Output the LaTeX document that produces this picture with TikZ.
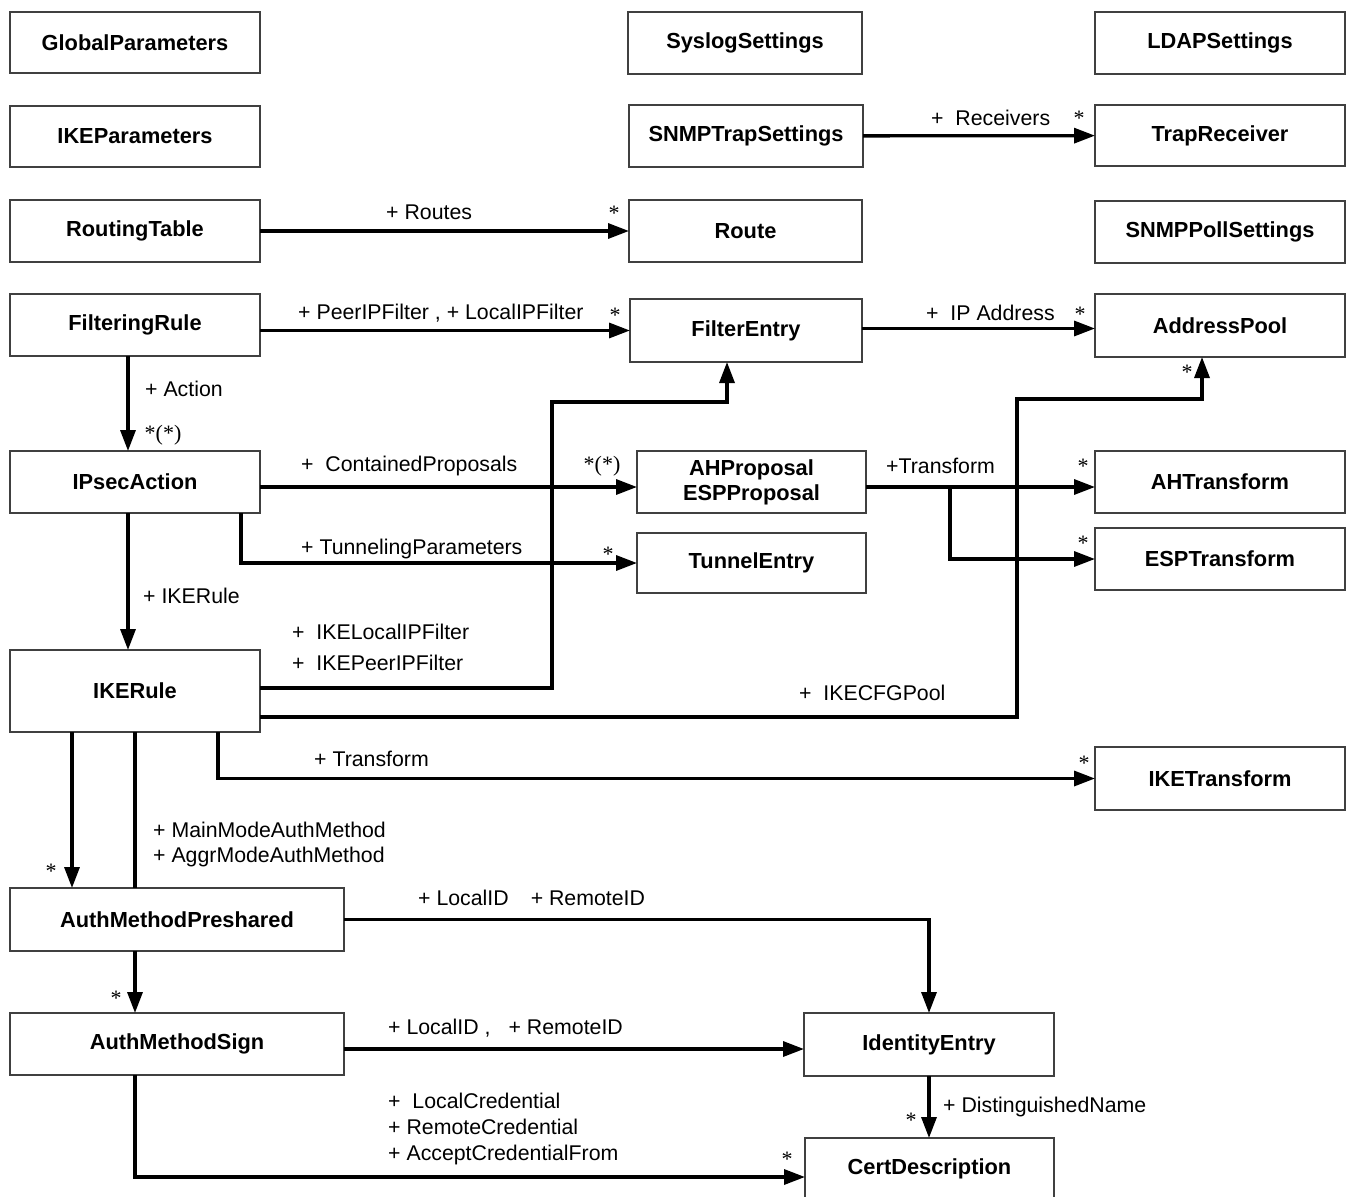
\documentclass[tikz,border=0pt]{standalone}
\usepackage{fontspec}
\setmainfont{Liberation Sans}
\newfontfamily\starfont{Liberation Serif}
\usetikzlibrary{arrows.meta}
\def\klass#1#2#3#4#5#6{
\node[cls, minimum width=#4pt-#2pt, minimum height=#5pt-#3pt] (#1) at ({(#2+#4)/2},{(#3+#5)/2}) {#6};
}

\begin{document}
\begin{tikzpicture}[x=1pt, y=-1pt,
    cls/.style={draw=black!75, line width=1.2pt, inner sep=0pt, outer sep=0pt, align=center,
      font=\fontsize{21.8}{25}\selectfont\bfseries},
    assoc/.style={line width=3.3pt, -{Triangle[length=21pt,width=15pt]}},
    link/.style={line width=3.3pt},
    lbl/.style={anchor=west, inner sep=0pt, align=left, font=\fontsize{21.3}{25}\selectfont},
    mult/.style={inner sep=0pt, font=\starfont\fontsize{22}{25}\selectfont}]
    \useasboundingbox (0,0) rectangle (1351,1196);
    \klass{global}{10}{12}{260}{73}{GlobalParameters}
    \klass{syslog}{628}{12}{862}{74}{SyslogSettings}
    \klass{ldap}{1095}{12}{1345}{74}{LDAPSettings}
    \klass{ikeparam}{10}{106}{260}{167}{IKEParameters}
    \klass{snmptrap}{629}{105}{863}{167}{SNMPTrapSettings}
    \klass{traprcv}{1095}{105}{1345}{166}{TrapReceiver}
    \klass{routing}{10}{200}{260}{262}{RoutingTable}
    \klass{route}{629}{200}{862}{262}{Route}
    \klass{snmppoll}{1095}{201}{1345}{263}{SNMPPollSettings}
    \klass{filtering}{10}{294}{260}{356}{FilteringRule}
    \klass{filterentry}{630}{299}{862}{362}{FilterEntry}
    \klass{addrpool}{1095}{294}{1345}{357}{AddressPool}
    \klass{ipsec}{10}{451}{260}{513}{IPsecAction}
    \klass{proposal}{637}{451}{866}{513}{AHProposal\\ESPProposal}
    \klass{ahtrans}{1095}{451}{1345}{513}{AHTransform}
    \klass{tunnel}{637}{533}{866}{593}{TunnelEntry}
    \klass{esptrans}{1095}{528}{1345}{590}{ESPTransform}
    \klass{ikerule}{10}{650}{260}{732}{IKERule}
    \klass{iketrans}{1095}{747}{1345}{810}{IKETransform}
    \klass{preshared}{10}{888}{344}{951}{AuthMethodPreshared}
    \klass{sign}{10}{1013}{344}{1075}{AuthMethodSign}
    \klass{identity}{804}{1013}{1054}{1076}{IdentityEntry}
    \klass{cert}{805}{1138}{1054}{1200}{CertDescription}

    \draw[assoc] (snmptrap) -- (traprcv);
    \draw[assoc] (routing) -- (route);
    \draw[assoc] (filterentry.west -| filtering.east) -- (filterentry.west);
    \draw[assoc] ([yshift=2pt]filterentry.east) -- ([yshift=2pt]filterentry.east -| addrpool.west);
    \draw[assoc] ([xshift=-7pt]filtering.south) -- ([xshift=-7pt]ipsec.north);
    \draw[assoc] ([yshift=-5pt]ipsec.east) -- ([yshift=-5pt]proposal.west);
    \draw[assoc] ([xshift=-19pt]ipsec.south east) |- (tunnel.west);
    \draw[assoc] ([yshift=-5pt]proposal.east) -- ([yshift=-5pt]proposal.east -| ahtrans.west);
    \coordinate (tsplit) at ([xshift=84pt,yshift=-5pt]proposal.east);
    \draw[assoc] (tsplit) |- (esptrans.west);
    \draw[assoc] ([xshift=-7pt]ipsec.south) -- ([xshift=-7pt]ikerule.north);
    \coordinate (fbend) at (552,402);
    \draw[assoc] ([yshift=3pt]ikerule.east) -| (fbend) -| ([xshift=-19pt]filterentry.south);
    \coordinate (pbend) at (1017,399);
    \draw[assoc] ([yshift=-26pt]ikerule.east) -| (pbend) -| ([xshift=-18pt]addrpool.south);
    \draw[assoc] ([xshift=-42pt]ikerule.south east) |- (iketrans.west);
    \draw[assoc] ([xshift=62pt]ikerule.south west) -- ([xshift=62pt]preshared.north west);
    \draw[link] (ikerule.south) -- (ikerule.south |- preshared.north);
    \draw[assoc] (preshared.east) -| (identity.north);
    \draw[assoc] ([xshift=125pt]preshared.south west) -- ([xshift=125pt]sign.north west);
    \draw[assoc] ([yshift=-5pt]sign.east) -- ([yshift=-5pt]sign.east -| identity.west);
    \draw[assoc] (identity.south) -- (identity.south |- cert.north);
    \draw[assoc] ([xshift=125pt]sign.south west) |- ([yshift=-8pt]cert.west);

    \node[lbl] (lblrcv) at (931,118) {+ \ Receivers};
    \node[lbl] (lblroutes) at (386,212) {+ Routes};
    \node[lbl] (lblpeer) at (298,313) {+ PeerIPFilter , + LocalIPFilter};
    \node[lbl] (lblip) at (926,313) {+ \ IP Address};
    \node[lbl] (lblaction) at (145,389) {+ Action};
    \node[lbl] (lblcontained) at (301,466) {+ \ ContainedProposals};
    \node[lbl] (lbltunnel) at (301,549) {+ TunnelingParameters};
    \node[lbl] (lbltrans) at (886,466) {+Transform};
    \node[lbl] (lblikerule) at (143,596) {+ IKERule};
    \node[lbl, font=\fontsize{21.3}{31}\selectfont] (lblikefilter) at (292,647) {+ \ IKELocalIPFilter\\+ \ IKEPeerIPFilter};
    \node[lbl] (lblcfg) at (799,693) {+ \ IKECFGPool};
    \node[lbl] (lbliketrans) at (314,759) {+ Transform};
    \node[lbl] (lblauth) at (153,844) {+ MainModeAuthMethod\\+ AggrModeAuthMethod};
    \node[lbl] (lblpreid) at (418,898) {+ LocalID\hspace{22pt}+ RemoteID};
    \node[lbl] (lblsignid) at (388,1028) {+ LocalID ,\hspace{18pt}+ RemoteID};
    \node[lbl, font=\fontsize{21.3}{26}\selectfont] (lblcred) at (388,1129) {+ \ LocalCredential\\+ RemoteCredential\\+ AcceptCredentialFrom};
    \node[lbl] (lbldn) at (943,1107) {+ DistinguishedName};

    \node[mult] (mrcv) at (1079,118) {*};
    \node[mult] (mroutes) at (614,213) {*};
    \node[mult] (mpeer) at (615,315) {*};
    \node[mult] (mip) at (1080,314) {*};
    \node[mult] (maction) at (163,435) {*(*)};
    \node[mult] (mcontained) at (602,466) {*(*)};
    \node[mult] (mtunnel) at (608,554) {*};
    \node[mult] (mahtrans) at (1083,466) {*};
    \node[mult] (mesptrans) at (1083,543) {*};
    \node[mult] (mcfg) at (1187,372) {*};
    \node[mult] (miketrans) at (1084,763) {*};
    \node[mult] (mauth) at (51,871) {*};
    \node[mult] (msign) at (116,998) {*};
    \node[mult] (mdn) at (911,1120) {*};
    \node[mult] (mcred) at (787,1159) {*};
\end{tikzpicture}
\end{document}
